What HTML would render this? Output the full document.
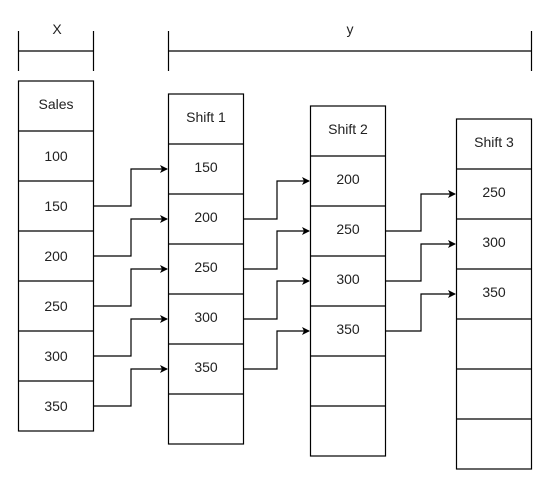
<!DOCTYPE html>
<html><head><style>body{margin:0;background:#fff}svg{display:block}</style></head><body>
<svg width="557" height="478" xmlns="http://www.w3.org/2000/svg" font-family="Liberation Sans, sans-serif" font-size="14" fill="#222">
<defs><marker id="a" markerWidth="8" markerHeight="8" refX="7" refY="4" orient="auto" markerUnits="userSpaceOnUse"><path d="M0,0 L8,4 L0,8 L2,4 z" fill="#000"/></marker></defs>
<g stroke="#000" stroke-width="1.2" fill="none">
<path d="M18.5,31V71M93.5,31V71M18.5,51H93.5"/>
<path d="M168.5,31V71M531.5,31V71M168.5,51H531.5"/>
<rect x="18.5" y="81" width="75" height="350"/>
<path d="M18.5,131H93.5M18.5,181H93.5M18.5,231H93.5M18.5,281H93.5M18.5,331H93.5M18.5,381H93.5"/>
<rect x="168.5" y="94" width="75" height="350"/>
<path d="M168.5,144H243.5M168.5,194H243.5M168.5,244H243.5M168.5,294H243.5M168.5,344H243.5M168.5,394H243.5"/>
<rect x="310.5" y="106" width="75" height="350"/>
<path d="M310.5,156H385.5M310.5,206H385.5M310.5,256H385.5M310.5,306H385.5M310.5,356H385.5M310.5,406H385.5"/>
<rect x="456.5" y="119" width="75" height="350"/>
<path d="M456.5,169H531.5M456.5,219H531.5M456.5,269H531.5M456.5,319H531.5M456.5,369H531.5M456.5,419H531.5"/>
<g marker-end="url(#a)">
<path d="M93.5,206H131V169H167"/><path d="M93.5,256H131V219H167"/><path d="M93.5,306H131V269H167"/><path d="M93.5,356H131V319H167"/><path d="M93.5,406H131V369H167"/>
<path d="M243.5,219H277V181H309"/><path d="M243.5,269H277V231H309"/><path d="M243.5,319H277V281H309"/><path d="M243.5,369H277V331H309"/>
<path d="M385.5,231H421V194H455"/><path d="M385.5,281H421V244H455"/><path d="M385.5,331H421V294H455"/>
</g></g>
<g text-anchor="middle" dominant-baseline="central">
<text x="57" y="29">X</text><text x="350" y="29">y</text>
<text x="56" y="104">Sales</text><text x="56" y="156">100</text><text x="56" y="206">150</text><text x="56" y="256">200</text><text x="56" y="306">250</text><text x="56" y="356">300</text><text x="56" y="406">350</text>
<text x="206" y="117">Shift 1</text><text x="206" y="167">150</text><text x="206" y="217">200</text><text x="206" y="267">250</text><text x="206" y="317">300</text><text x="206" y="367">350</text>
<text x="348" y="129">Shift 2</text><text x="348" y="179">200</text><text x="348" y="229">250</text><text x="348" y="279">300</text><text x="348" y="329">350</text>
<text x="494" y="142">Shift 3</text><text x="494" y="192">250</text><text x="494" y="242">300</text><text x="494" y="292">350</text>
</g>
</svg>
</body></html>
